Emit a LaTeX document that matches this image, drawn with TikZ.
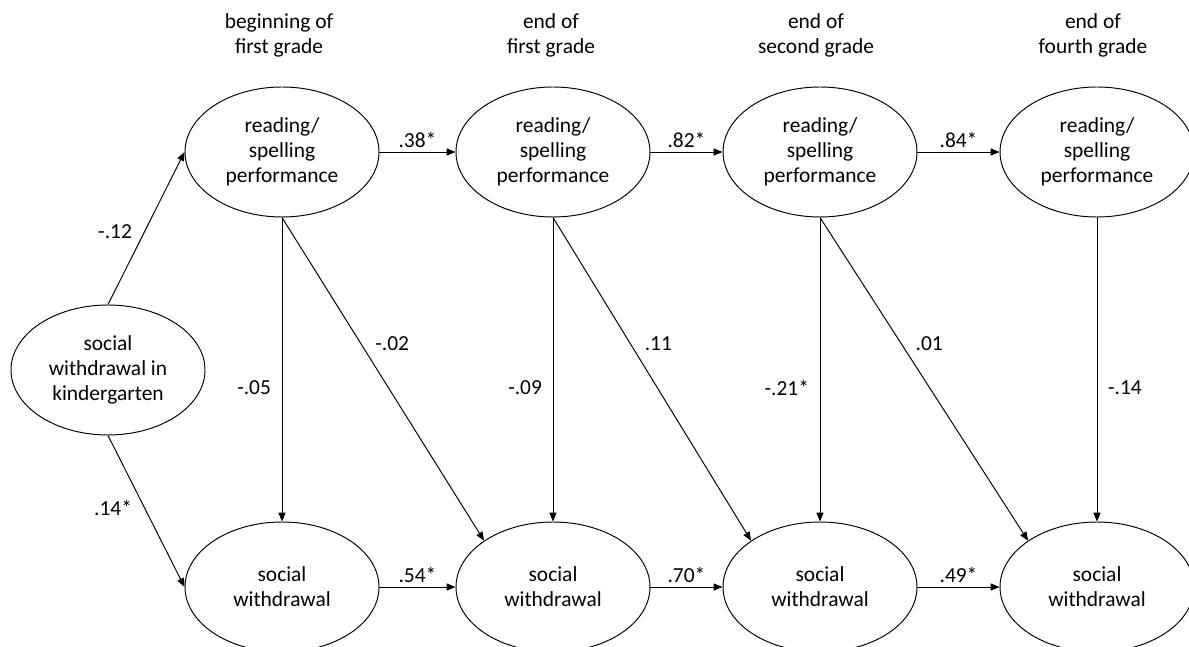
\documentclass[tikz,border=0pt]{standalone}
\usepackage{fontspec}
\setmainfont{Carlito}
\usetikzlibrary{shapes.geometric,arrows.meta}
\tikzset{
  latent/.style={draw,ellipse,minimum width=3.88cm,minimum height=2.6cm,inner sep=0pt,align=center,font=\fontsize{12.2pt}{14.2pt}\selectfont},
  coef/.style={inner sep=2pt,font=\fontsize{12.2pt}{14.2pt}\selectfont},
  wave/.style={align=center,font=\fontsize{12.2pt}{14.2pt}\selectfont}
}
\begin{document}
\begin{tikzpicture}[>={Triangle[length=5pt,width=4pt]},line width=0.55pt]
	  \useasboundingbox (0,0) rectangle (23.78,-12.94);
	  \node[wave] (t1) at (5.58,-0.71) {beginning of\\first grade};
	  \node[wave] (t2) at (11.02,-0.71) {end of\\first grade};
	  \node[wave] (t3) at (16.32,-0.71) {end of\\second grade};
	  \node[wave] (t4) at (21.86,-0.71) {end of\\fourth grade};
	  \node[latent] (rs1) at (5.64,-3.04) {reading/\\spelling\\performance};
	  \node[latent] (rs2) at (11.06,-3.04) {reading/\\spelling\\performance};
	  \node[latent] (rs3) at (16.40,-3.04) {reading/\\spelling\\performance};
	  \node[latent] (rs4) at (21.94,-3.04) {reading/\\spelling\\performance};
	  \node[latent] (swk) at (2.16,-7.40) {social\\withdrawal in\\kindergarten};
	  \node[latent] (sw1) at (5.64,-11.74) {social\\withdrawal};
	  \node[latent] (sw2) at (11.06,-11.74) {social\\withdrawal};
	  \node[latent] (sw3) at (16.40,-11.74) {social\\withdrawal};
	  \node[latent] (sw4) at (21.94,-11.74) {social\\withdrawal};
	  \draw[->] (swk.north) -- node[coef,pos=0.48,left=5pt] {-.12} (rs1.west);
	  \draw[->] (swk.south) -- node[coef,pos=0.48,left=5pt] {.14*} (sw1.west);
	  \draw[->] (rs1.east) -- node[coef,above] {.38*} (rs2.west);
	  \draw[->] (rs2.east) -- node[coef,above] {.82*} (rs3.west);
	  \draw[->] (rs3.east) -- node[coef,above] {.84*} (rs4.west);
	  \draw[->] (sw1.east) -- node[coef,above] {.54*} (sw2.west);
	  \draw[->] (sw2.east) -- node[coef,above] {.70*} (sw3.west);
	  \draw[->] (sw3.east) -- node[coef,above] {.49*} (sw4.west);
	  \draw[->] (rs1.south) -- node[coef,pos=0.56,left=4pt] {-.05} (sw1.north);
	  \draw[->] (rs2.south) -- node[coef,pos=0.56,left=4pt] {-.09} (sw2.north);
	  \draw[->] (rs3.south) -- node[coef,pos=0.56,left=4pt] {-.21*} (sw3.north);
	  \draw[->] (rs4.south) -- node[coef,pos=0.56,right=4pt] {-.14} (sw4.north);
	  \draw[->] (rs1.south) -- node[coef,pos=0.39,right=6pt] {-.02} (sw2.north west);
	  \draw[->] (rs2.south) -- node[coef,pos=0.39,right=6pt] {.11} (sw3.north west);
	  \draw[->] (rs3.south) -- node[coef,pos=0.39,right=6pt] {.01} (sw4.north west);
	\end{tikzpicture}
\end{document}
